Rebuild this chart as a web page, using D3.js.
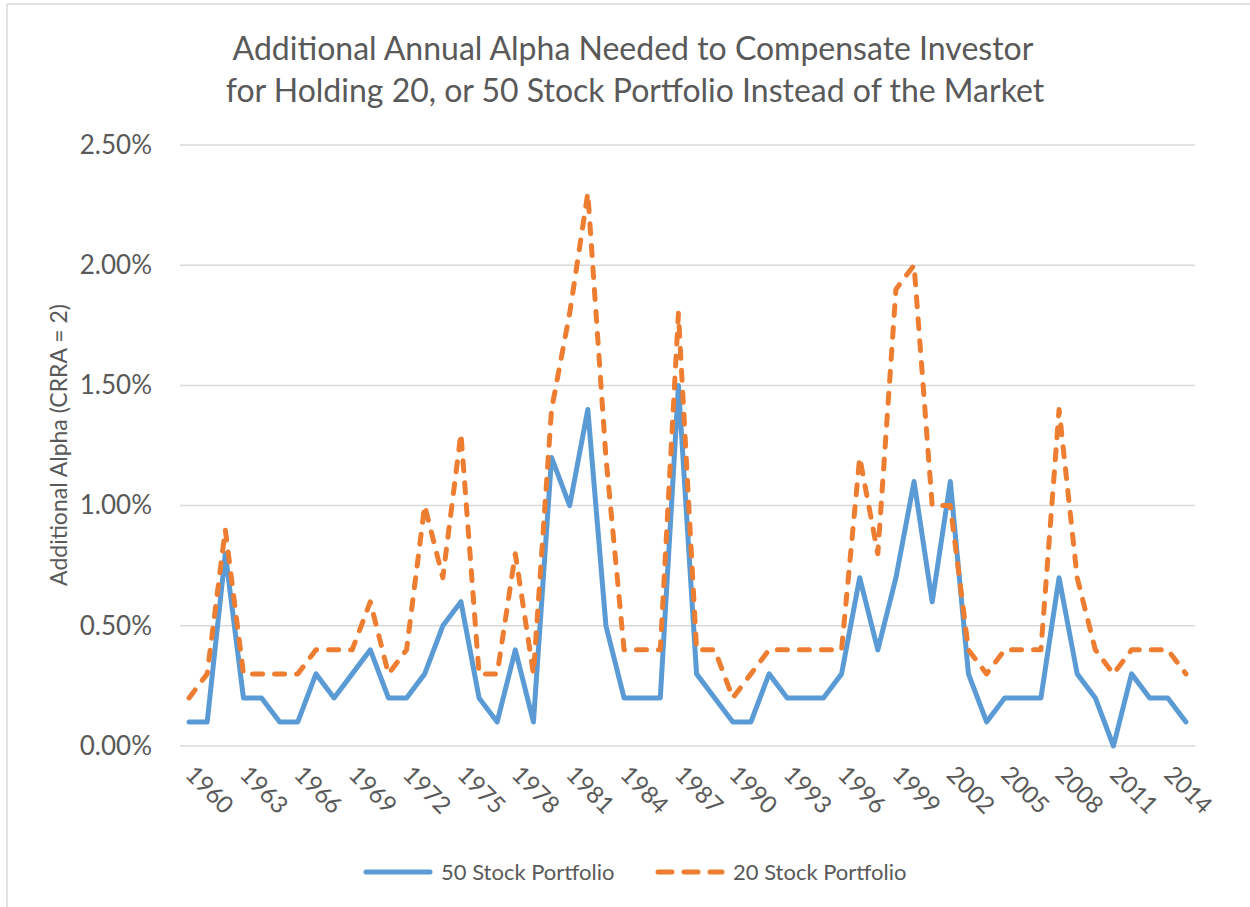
<!DOCTYPE html>
<html lang="en">
  <head>
    <meta charset="utf-8" />
    <title>Additional Annual Alpha</title>
    <style>
      body { margin: 0; background: #fff; }
      #vis text { font-family: Lato, "Open Sans", sans-serif; fill: #595959; }
      .grid line { stroke: #d9d9d9; stroke-width: 1.5px; }
    </style>
  </head>
  <body>
    <div id="vis"></div>
    <script src="https://d3js.org/d3.v7.min.js"></script>
    <script>
      // years on the category axis
      const years = d3.range(1960, 2016);
      // additional alpha, percent
      const stock50 = [0.1, 0.1, 0.8, 0.2, 0.2, 0.1, 0.1, 0.3, 0.2, 0.3,
                       0.4, 0.2, 0.2, 0.3, 0.5, 0.6, 0.2, 0.1, 0.4, 0.1,
                       1.2, 1.0, 1.4, 0.5, 0.2, 0.2, 0.2, 1.5, 0.3, 0.2,
                       0.1, 0.1, 0.3, 0.2, 0.2, 0.2, 0.3, 0.7, 0.4, 0.7,
                       1.1, 0.6, 1.1, 0.3, 0.1, 0.2, 0.2, 0.2, 0.7, 0.3,
                       0.2, 0.0, 0.3, 0.2, 0.2, 0.1];
      const stock20 = [0.2, 0.3, 0.9, 0.3, 0.3, 0.3, 0.3, 0.4, 0.4, 0.4,
                       0.6, 0.3, 0.4, 1.0, 0.7, 1.3, 0.3, 0.3, 0.8, 0.3,
                       1.4, 1.8, 2.3, 1.2, 0.4, 0.4, 0.4, 1.8, 0.4, 0.4,
                       0.2, 0.3, 0.4, 0.4, 0.4, 0.4, 0.4, 1.2, 0.8, 1.9,
                       2.0, 1.0, 1.0, 0.4, 0.3, 0.4, 0.4, 0.4, 1.4, 0.7,
                       0.4, 0.3, 0.4, 0.4, 0.4, 0.3];
      const yTicks = [0, 0.5, 1.0, 1.5, 2.0, 2.5];
      const xTicks = years.filter(y => (y - 1960) % 3 === 0);
      const seriesNames = ["50 Stock Portfolio", "20 Stock Portfolio"];
      const colors = ["#5b9bd5", "#ed7d31"];

      const W = 1250, H = 907;
      const svg = d3.select("#vis").append("svg").attr("width", W).attr("height", H);

      // chart area border (left and top edges visible)
      svg.append("line").attr("x1", 7).attr("x2", 7).attr("y1", 4).attr("y2", H).attr("stroke", "#d9d9d9").attr("stroke-width", 1.5);
      svg.append("line").attr("x1", 7).attr("x2", W).attr("y1", 4).attr("y2", 4).attr("stroke", "#d9d9d9").attr("stroke-width", 1.5);

      const x = d3.scaleBand().domain(years).range([180, 1195]);
      const y = d3.scaleLinear().domain([0, 2.5]).range([746, 145]);
      const cx = d => x(d) + x.bandwidth() / 2;

      // gridlines
      svg.append("g").attr("class", "grid")
        .selectAll("line").data(yTicks).join("line")
        .attr("x1", 180).attr("x2", 1195)
        .attr("y1", d => y(d)).attr("y2", d => y(d));

      // y axis labels
      const yAxis = svg.append("g").attr("transform", "translate(180,0)")
        .call(d3.axisLeft(y).tickValues(yTicks).tickSize(0).tickPadding(28).tickFormat(d => d.toFixed(2) + "%"));
      yAxis.select(".domain").remove();
      yAxis.selectAll("text").attr("font-size", 26).attr("font-family", null);

      // x axis labels, rotated 45deg
      const xAxis = svg.append("g").attr("transform", "translate(0,746)")
        .call(d3.axisBottom(x).tickValues(xTicks).tickSize(0));
      xAxis.select(".domain").remove();
      xAxis.selectAll("text")
        .attr("font-size", 24).attr("font-family", null)
        .attr("text-anchor", "start").attr("dy", null).attr("y", 0)
        .attr("transform", "translate(-5,30) rotate(45)");

      // lines
      const line = d3.line().x((d, i) => cx(years[i])).y(d => y(d));
      svg.append("path").datum(stock50).attr("d", line)
        .attr("fill", "none").attr("stroke", colors[0]).attr("stroke-width", 5)
        .attr("stroke-linejoin", "round").attr("stroke-linecap", "round");
      svg.append("path").datum(stock20).attr("d", line)
        .attr("fill", "none").attr("stroke", colors[1]).attr("stroke-width", 5)
        .attr("stroke-dasharray", "10 12")
        .attr("stroke-linejoin", "round").attr("stroke-linecap", "round");

      // title
      const title = svg.append("text").attr("text-anchor", "middle").attr("font-size", 32);
      title.append("tspan").attr("x", 633).attr("y", 60).text("Additional Annual Alpha Needed to Compensate Investor");
      title.append("tspan").attr("x", 635).attr("y", 102).text("for Holding 20, or 50 Stock Portfolio Instead of the Market");

      // y axis title
      svg.append("text").attr("text-anchor", "middle").attr("font-size", 23)
        .attr("transform", "translate(67,445) rotate(-90)")
        .text("Additional Alpha (CRRA = 2)");

      // legend
      const legend = svg.append("g").selectAll("g").data(seriesNames).join("g")
        .attr("transform", (d, i) => `translate(${i === 0 ? 366 : 658},872)`);
      legend.append("line").attr("x1", 0).attr("x2", 64).attr("y1", 0).attr("y2", 0)
        .attr("stroke", (d, i) => colors[i]).attr("stroke-width", 5).attr("stroke-linecap", "round")
        .attr("stroke-dasharray", (d, i) => i === 0 ? null : "14 12");
      legend.append("text").attr("x", 75).attr("y", 8).attr("font-size", 22).text(d => d);
    </script>
  </body>
</html>
